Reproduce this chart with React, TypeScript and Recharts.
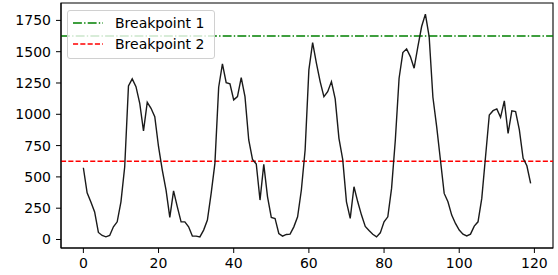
import React from 'react';
import { LineChart, Line, XAxis, YAxis, ReferenceLine, ReferenceArea } from 'recharts';

// sample index 0..119
const values: number[] = [
  573, 373, 300, 220, 56, 32, 21, 32, 101, 141,
  301, 581, 1227, 1283, 1221, 1088, 867, 1096, 1048, 981,
  741, 555, 395, 176, 389, 261, 141, 141, 101, 27,
  27, 21, 75, 155, 368, 608, 1216, 1403, 1253, 1243,
  1115, 1141, 1293, 1141, 795, 640, 603, 315, 600, 341,
  176, 168, 48, 27, 40, 43, 101, 181, 395, 715,
  1355, 1573, 1408, 1261, 1141, 1181, 1261, 1123, 808, 640,
  301, 168, 421, 301, 195, 104, 72, 42, 21, 53,
  141, 181, 408, 795, 1288, 1493, 1523, 1461, 1368, 1541,
  1701, 1800, 1621, 1136, 901, 635, 368, 301, 195, 128,
  75, 43, 29, 43, 107, 141, 328, 661, 995, 1029,
  1043, 976, 1107, 848, 1027, 1021, 875, 648, 589, 448,
];

const breakpoints = [
  { name: 'Breakpoint 1', value: 1625, color: '#008000', dash: '8.9 2.2 1.4 2.2' },
  { name: 'Breakpoint 2', value: 625, color: '#ff0000', dash: '5.1 2.2' },
];

const xTicks = [0, 20, 40, 60, 80, 100, 120];
const yTicks = [0, 250, 500, 750, 1000, 1250, 1500, 1750];

const data = values.map((v, i) => ({ x: i, y: v }));

const X_DOMAIN: [number, number] = [-5.95, 124.95];
const Y_DOMAIN: [number, number] = [-68, 1889];
const FONT = 'DejaVu Sans';

// matplotlib-style legend box, overlaid on the plot area
function BreakpointLegend() {
  return (
    <div
      style={{
        position: 'absolute',
        left: 67,
        top: 10,
        width: 148,
        height: 49,
        border: '1px solid #d0d0d0',
        borderRadius: 3,
        background: 'rgba(255,255,255,0.8)',
        padding: '2px 0 0 5px',
        fontFamily: FONT,
        fontSize: 14,
        color: '#000',
        boxSizing: 'border-box',
        whiteSpace: 'nowrap',
      }}
    >
      {breakpoints.map((b) => (
        <div key={b.name} style={{ display: 'flex', alignItems: 'center', height: 20.5 }}>
          <svg width={30} height={6} style={{ marginRight: 12, flex: 'none' }}>
            <line x1={0} y1={3} x2={30} y2={3} stroke={b.color} strokeWidth={1.4} strokeDasharray={b.dash} />
          </svg>
          <span>{b.name}</span>
        </div>
      ))}
    </div>
  );
}

export default function App() {
  return (
    <div style={{ position: 'absolute', left: 0, top: 0, width: 558, height: 275, background: '#fff' }}>
      <LineChart width={558} height={275} data={data} margin={{ top: 3, right: 5, bottom: 0, left: 0 }}>
        <XAxis
          dataKey="x"
          type="number"
          domain={X_DOMAIN}
          ticks={xTicks}
          allowDataOverflow
          height={27}
          stroke="#000"
          tickSize={5}
          tickMargin={5}
          tick={{ fill: '#000', fontSize: 14, fontFamily: FONT }}
        />
        <YAxis
          type="number"
          domain={Y_DOMAIN}
          ticks={yTicks}
          allowDataOverflow
          width={61}
          stroke="#000"
          tickSize={5}
          tickMargin={5}
          tick={{ fill: '#000', fontSize: 14, fontFamily: FONT }}
        />
        <ReferenceArea
          x1={X_DOMAIN[0]}
          x2={X_DOMAIN[1]}
          y1={Y_DOMAIN[0]}
          y2={Y_DOMAIN[1]}
          fill="none"
          stroke="#000"
          strokeWidth={1.1}
        />
        {breakpoints.map((b) => (
          <ReferenceLine
            key={b.name}
            y={b.value}
            stroke={b.color}
            strokeWidth={1.4}
            strokeDasharray={b.dash}
          />
        ))}
        <Line
          dataKey="y"
          type="linear"
          stroke="#1a1a1a"
          strokeWidth={1.4}
          dot={false}
          isAnimationActive={false}
        />
      </LineChart>
      <BreakpointLegend />
    </div>
  );
}
